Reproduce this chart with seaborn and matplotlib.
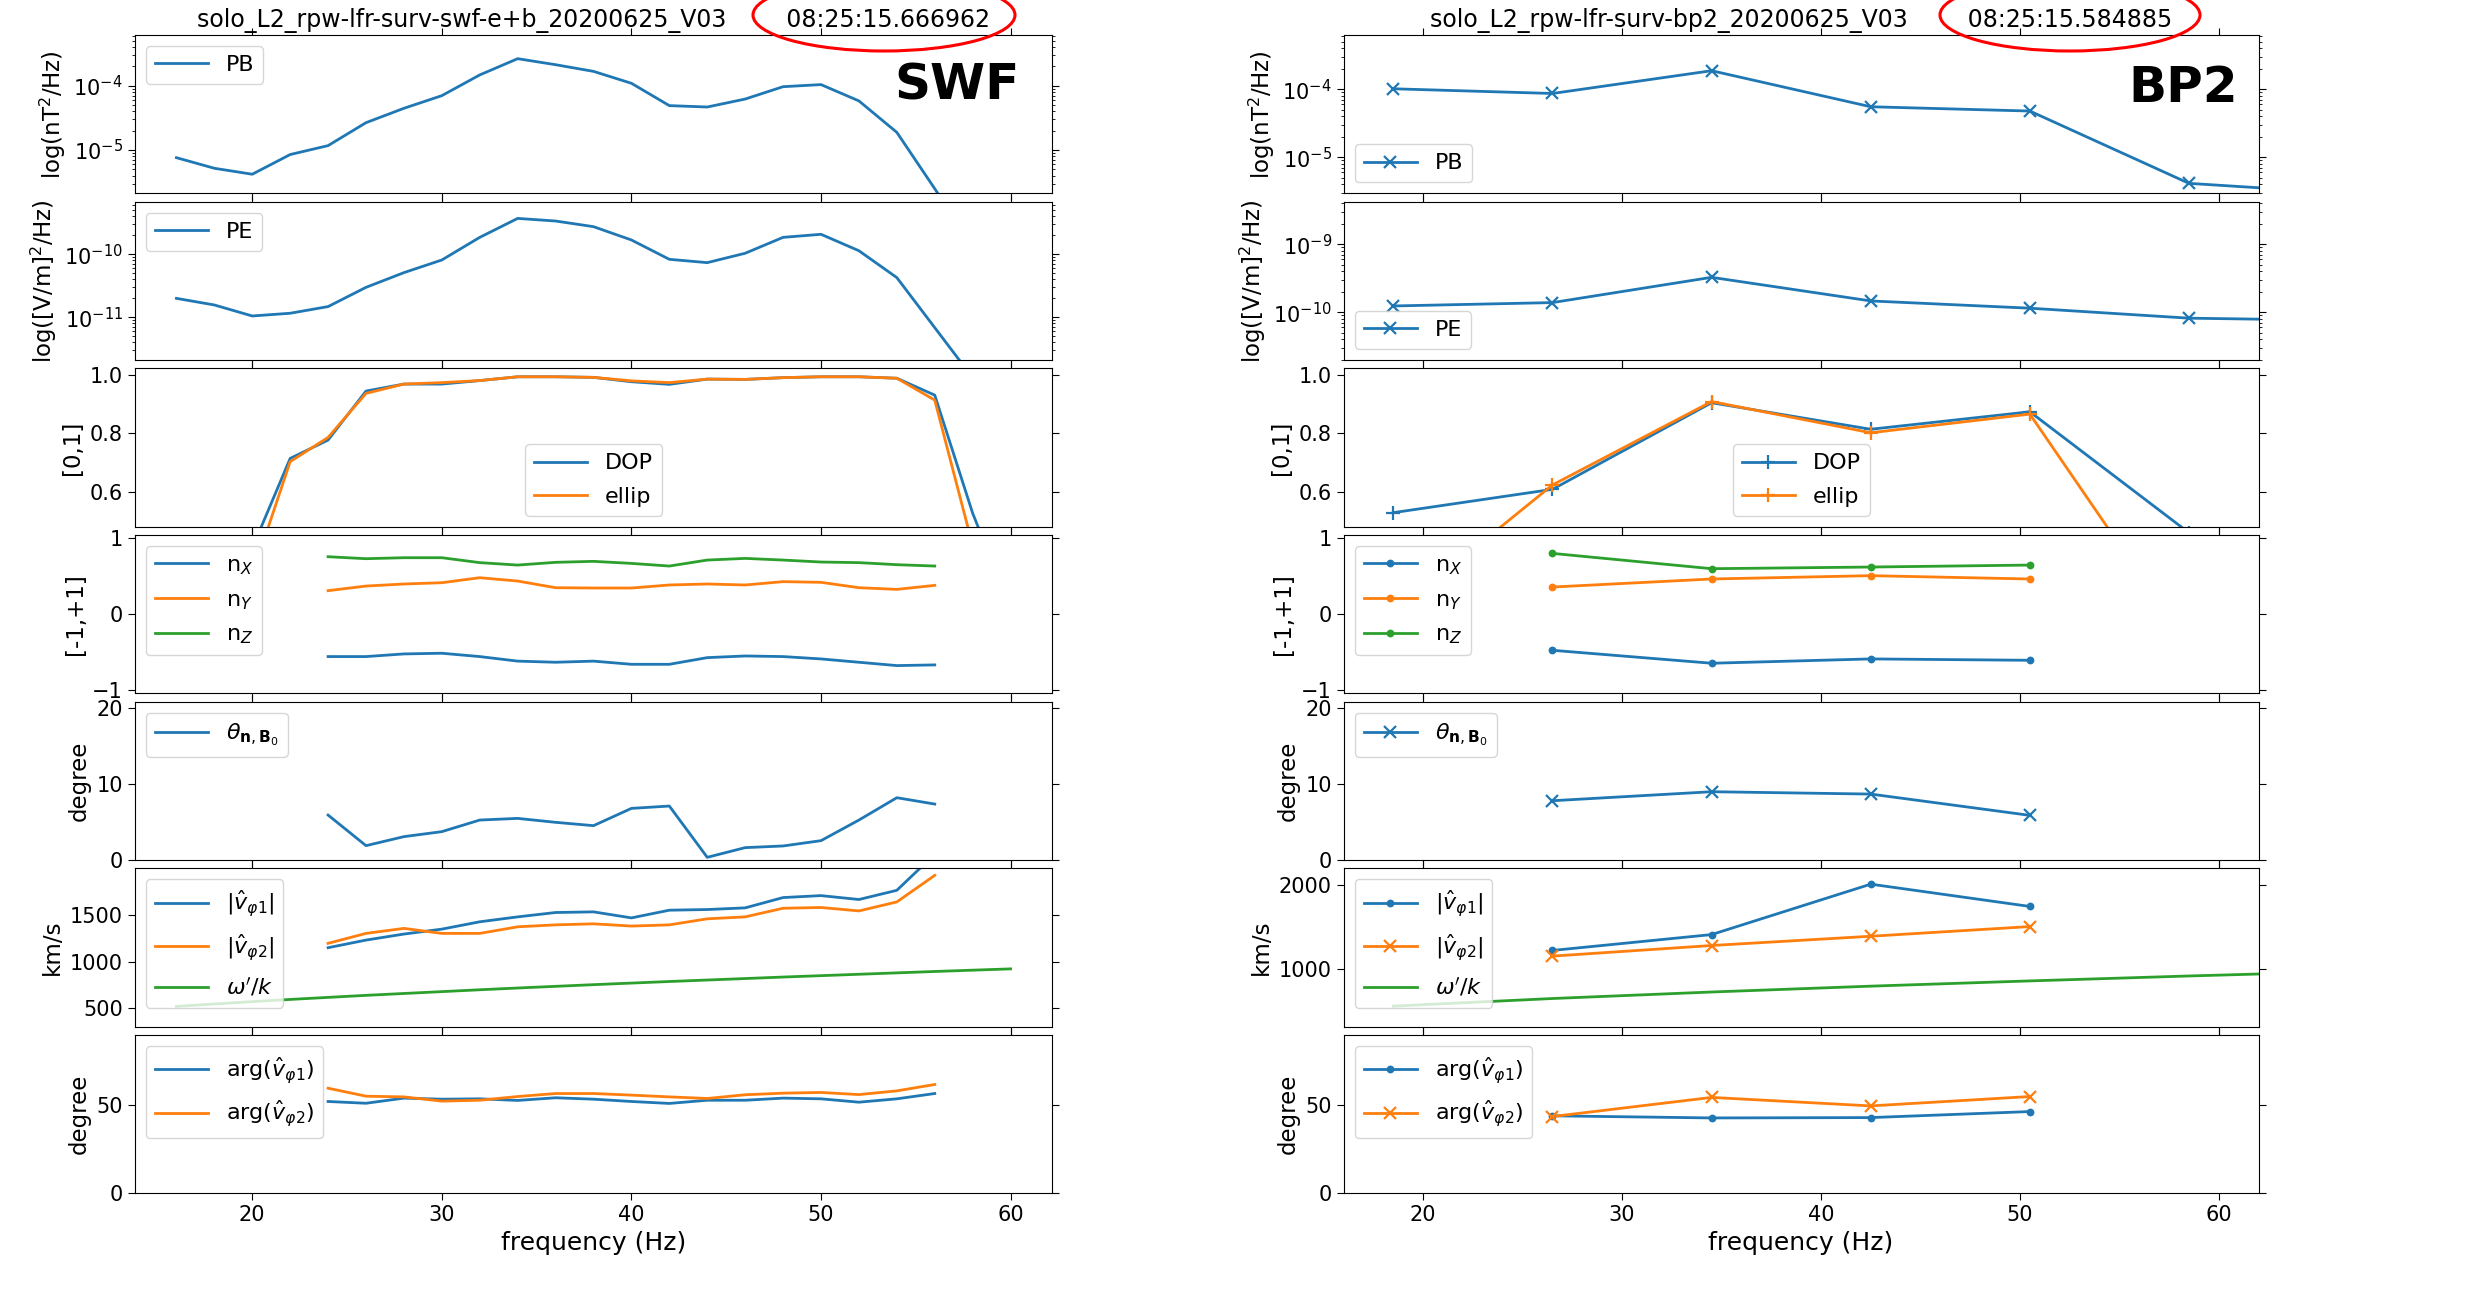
import matplotlib
matplotlib.use("Agg")
import matplotlib.pyplot as plt
import seaborn as sns
from matplotlib.patches import Ellipse

# ---------------- SWF (waveform) spectra, 2 Hz bins ----------------
swf_freq = [16, 18, 20, 22, 24, 26, 28, 30, 32, 34, 36, 38, 40, 42, 44, 46,
            48, 50, 52, 54, 56, 58, 60]
swf_pb = [7.6e-6, 5.2e-6, 4.2e-6, 8.5e-6, 1.17e-5, 2.66e-5, 4.45e-5, 7.0e-5,
          1.47e-4, 2.63e-4, 2.12e-4, 1.67e-4, 1.09e-4, 4.9e-5, 4.66e-5, 6.2e-5,
          9.65e-5, 1.04e-4, 5.8e-5, 1.88e-5, 2.5e-6, 3.2e-7, 5.0e-8]
swf_pe = [2.0e-11, 1.57e-11, 1.05e-11, 1.16e-11, 1.48e-11, 2.99e-11, 5.12e-11,
          8.13e-11, 1.86e-10, 3.72e-10, 3.38e-10, 2.75e-10, 1.69e-10, 8.33e-11,
          7.38e-11, 1.04e-10, 1.86e-10, 2.08e-10, 1.14e-10, 4.27e-11, 6.85e-12,
          1.1e-12, 2.0e-13]
swf_dop = [0.25, 0.30, 0.406, 0.714, 0.777, 0.945, 0.969, 0.969, 0.981, 0.994,
           0.994, 0.992, 0.977, 0.968, 0.986, 0.985, 0.991, 0.994, 0.994, 0.989,
           0.931, 0.526, 0.20]
swf_ellip = [0.20, 0.25, 0.314, 0.703, 0.786, 0.937, 0.969, 0.974, 0.981, 0.994,
             0.994, 0.992, 0.980, 0.974, 0.986, 0.985, 0.991, 0.994, 0.994, 0.989,
             0.914, 0.415, 0.15]

# wave-vector quantities, only where the wave is polarised
swf_fpol = [24, 26, 28, 30, 32, 34, 36, 38, 40, 42, 44, 46, 48, 50, 52, 54, 56]
swf_nx = [-0.56, -0.56, -0.525, -0.516, -0.56, -0.62, -0.635, -0.62, -0.662,
          -0.662, -0.574, -0.552, -0.56, -0.591, -0.635, -0.679, -0.67]
swf_ny = [0.31, 0.371, 0.398, 0.415, 0.481, 0.437, 0.349, 0.345, 0.345, 0.385,
          0.398, 0.385, 0.429, 0.42, 0.349, 0.327, 0.38]
swf_nz = [0.758, 0.732, 0.745, 0.745, 0.68, 0.648, 0.684, 0.697, 0.67, 0.635,
          0.714, 0.736, 0.714, 0.688, 0.68, 0.653, 0.635]
swf_theta = [5.93, 1.89, 3.08, 3.74, 5.27, 5.49, 4.97, 4.53, 6.81, 7.12, 0.35,
             1.63, 1.85, 2.55, 5.27, 8.22, 7.38]
swf_v1 = [1150, 1232, 1297, 1350, 1429, 1482, 1529, 1536, 1471, 1554, 1561,
          1579, 1690, 1711, 1669, 1768, 2157]
swf_v2 = [1197, 1304, 1358, 1304, 1304, 1375, 1396, 1407, 1383, 1396, 1461,
          1482, 1575, 1583, 1546, 1643, 1929]
swf_arg1 = [51.9, 50.9, 53.8, 53.2, 53.4, 52.5, 54.0, 53.2, 51.9, 50.8, 52.6,
            52.6, 53.8, 53.4, 51.5, 53.4, 56.4]
swf_arg2 = [59.4, 54.9, 54.5, 52.1, 52.6, 54.7, 56.4, 56.4, 55.5, 54.5, 53.6,
            55.7, 56.6, 57.0, 55.8, 57.9, 61.5]

swf_fwk = [16, 18, 20, 22, 24, 26, 28, 30, 32, 34, 36, 38, 40, 42, 44, 46, 48,
           50, 52, 54, 56, 58, 60]
swf_wk = [518, 544, 569, 593, 615, 637, 657, 677, 697, 716, 734, 752, 769, 786,
          802, 818, 834, 849, 864, 879, 894, 908, 922]

# ---------------- BP2 (onboard spectral matrices) ----------------
bp2_freq = [18.5, 26.5, 34.5, 42.5, 50.5, 58.5, 66.5]
bp2_pb = [1.02e-4, 8.7e-5, 1.88e-4, 5.55e-5, 4.8e-5, 4.15e-6, 2.95e-6]
bp2_pe = [1.24e-10, 1.39e-10, 3.27e-10, 1.47e-10, 1.15e-10, 8.2e-11, 7.6e-11]
bp2_dop = [0.528, 0.608, 0.905, 0.814, 0.874, 0.459, 0.35]
bp2_ellip = [0.18, 0.623, 0.909, 0.802, 0.866, 0.07, 0.10]
bp2_wk = [551, 642, 720, 790, 853, 912, 966]

bp2_fpol = [26.5, 34.5, 42.5, 50.5]
bp2_nx = [-0.477, -0.648, -0.591, -0.609]
bp2_ny = [0.358, 0.464, 0.508, 0.464]
bp2_nz = [0.802, 0.60, 0.622, 0.648]
bp2_theta = [7.82, 9.01, 8.70, 5.89]
bp2_v1 = [1218, 1408, 2012, 1745]
bp2_v2 = [1150, 1277, 1388, 1504]
bp2_arg1 = [43.8, 42.6, 42.8, 46.2]
bp2_arg2 = [43.4, 54.2, 49.4, 54.7]

swf_title = "solo_L2_rpw-lfr-surv-swf-e+b_20200625_V03        08:25:15.666962"
bp2_title = "solo_L2_rpw-lfr-surv-bp2_20200625_V03        08:25:15.584885"

C0, C1, C2 = "#1f77b4", "#ff7f0e", "#2ca02c"
TICK_FS, LEG_FS, LAB_FS, TITLE_FS = 15, 16, 16.5, 17

W, H = 2472, 1303
fig = plt.figure(figsize=(W / 100, H / 100), dpi=100)
top, bottom = 1 - 35 / H, 1 - 1193.3 / H
gs_l = fig.add_gridspec(7, 1, left=134.7 / W, right=1052.3 / W, top=top,
                        bottom=bottom, hspace=0.0526)
gs_r = fig.add_gridspec(7, 1, left=1343.6 / W, right=2258.6 / W, top=top,
                        bottom=bottom, hspace=0.0526)


def column(gs):
    axes = [fig.add_subplot(gs[0])]
    for i in range(1, 7):
        axes.append(fig.add_subplot(gs[i], sharex=axes[0]))
    return axes


def curve(ax, x, y, label, color, marker=None, ms=8):
    kw = dict(color=color, label=label, lw=2)
    if marker is not None:
        kw.update(marker=marker, markersize=ms, mec=color, mfc=color, mew=1.6)
    sns.lineplot(x=x, y=y, ax=ax, **kw)


def finish(axes, xlim, legend_locs):
    for i, ax in enumerate(axes):
        ax.set_xlim(*xlim)
        ax.tick_params(which="both", top=True, right=True, direction="out",
                       labelsize=TICK_FS)
        ax.tick_params(which="major", length=5)
        if i < 6:
            ax.tick_params(labelbottom=False)
        ax.set_xlabel("")
        ax.legend(loc=legend_locs[i], fontsize=LEG_FS, handlelength=2.4,
                  labelspacing=0.6)
    axes[-1].set_xlabel("frequency (Hz)", fontsize=18)
    axes[-1].set_xticks([20, 30, 40, 50, 60])


# ---------------- left column: SWF ----------------
L = column(gs_l)
curve(L[0], swf_freq, swf_pb, "PB", C0)
L[0].set_yscale("log")
L[0].set_ylim(2.12e-6, 6.14e-4)
L[0].set_ylabel(r"log(nT$^2$/Hz)", fontsize=LAB_FS)
L[0].text(0.965, 0.68, "SWF", transform=L[0].transAxes, ha="right",
          va="center", fontsize=36, fontweight="bold")
L[0].set_title(swf_title, fontsize=TITLE_FS)

curve(L[1], swf_freq, swf_pe, "PE", C0)
L[1].set_yscale("log")
L[1].set_ylim(2.1e-12, 6.86e-10)
L[1].set_ylabel(r"log([V/m]$^2$/Hz)", fontsize=LAB_FS)

curve(L[2], swf_freq, swf_dop, "DOP", C0)
curve(L[2], swf_freq, swf_ellip, "ellip", C1)
L[2].set_ylim(0.48, 1.023)
L[2].set_yticks([0.6, 0.8, 1.0])
L[2].set_ylabel("[0,1]", fontsize=LAB_FS)

curve(L[3], swf_fpol, swf_nx, r"n$_X$", C0)
curve(L[3], swf_fpol, swf_ny, r"n$_Y$", C1)
curve(L[3], swf_fpol, swf_nz, r"n$_Z$", C2)
L[3].set_ylim(-1.045, 1.045)
L[3].set_yticks([-1, 0, 1])
L[3].set_ylabel("[-1,+1]", fontsize=LAB_FS)

curve(L[4], swf_fpol, swf_theta, r"$\theta_{\mathbf{n},\mathbf{B}_0}$", C0)
L[4].set_ylim(0, 20.9)
L[4].set_yticks([0, 10, 20])
L[4].set_ylabel("degree", fontsize=LAB_FS)

curve(L[5], swf_fpol, swf_v1, r"$|\hat{v}_{\varphi 1}|$", C0)
curve(L[5], swf_fpol, swf_v2, r"$|\hat{v}_{\varphi 2}|$", C1)
curve(L[5], swf_fwk, swf_wk, r"$\omega'/k$", C2)
L[5].set_ylim(300, 2005)
L[5].set_yticks([500, 1000, 1500])
L[5].set_ylabel("km/s", fontsize=LAB_FS)

curve(L[6], swf_fpol, swf_arg1, r"arg($\hat{v}_{\varphi 1}$)", C0)
curve(L[6], swf_fpol, swf_arg2, r"arg($\hat{v}_{\varphi 2}$)", C1)
L[6].set_ylim(0, 89.5)
L[6].set_yticks([0, 50])
L[6].set_ylabel("degree", fontsize=LAB_FS)

finish(L, (13.8, 62.2), ["upper left", "upper left", "lower center",
                         "upper left", "upper left", "upper left", "upper left"])

# ---------------- right column: BP2 ----------------
R = column(gs_r)
curve(R[0], bp2_freq, bp2_pb, "PB", C0, "x")
R[0].set_yscale("log")
R[0].set_ylim(2.96e-6, 6.3e-4)
R[0].set_ylabel(r"log(nT$^2$/Hz)", fontsize=LAB_FS)
R[0].text(0.978, 0.668, "BP2", transform=R[0].transAxes, ha="right",
          va="center", fontsize=36, fontweight="bold")
R[0].set_title(bp2_title, fontsize=TITLE_FS)

curve(R[1], bp2_freq, bp2_pe, "PE", C0, "x")
R[1].set_yscale("log")
R[1].set_ylim(1.99e-11, 4.24e-9)
R[1].set_ylabel(r"log([V/m]$^2$/Hz)", fontsize=LAB_FS)

curve(R[2], bp2_freq, bp2_dop, "DOP", C0, "+", 10)
curve(R[2], bp2_freq, bp2_ellip, "ellip", C1, "+", 10)
R[2].set_ylim(0.48, 1.023)
R[2].set_yticks([0.6, 0.8, 1.0])
R[2].set_ylabel("[0,1]", fontsize=LAB_FS)

curve(R[3], bp2_fpol, bp2_nx, r"n$_X$", C0, ".")
curve(R[3], bp2_fpol, bp2_ny, r"n$_Y$", C1, ".")
curve(R[3], bp2_fpol, bp2_nz, r"n$_Z$", C2, ".")
R[3].set_ylim(-1.045, 1.045)
R[3].set_yticks([-1, 0, 1])
R[3].set_ylabel("[-1,+1]", fontsize=LAB_FS)

curve(R[4], bp2_fpol, bp2_theta, r"$\theta_{\mathbf{n},\mathbf{B}_0}$", C0, "x")
R[4].set_ylim(0, 20.9)
R[4].set_yticks([0, 10, 20])
R[4].set_ylabel("degree", fontsize=LAB_FS)

curve(R[5], bp2_fpol, bp2_v1, r"$|\hat{v}_{\varphi 1}|$", C0, ".")
curve(R[5], bp2_fpol, bp2_v2, r"$|\hat{v}_{\varphi 2}|$", C1, "x")
curve(R[5], bp2_freq, bp2_wk, r"$\omega'/k$", C2)
R[5].set_ylim(305, 2202)
R[5].set_yticks([1000, 2000])
R[5].set_ylabel("km/s", fontsize=LAB_FS)

curve(R[6], bp2_fpol, bp2_arg1, r"arg($\hat{v}_{\varphi 1}$)", C0, ".")
curve(R[6], bp2_fpol, bp2_arg2, r"arg($\hat{v}_{\varphi 2}$)", C1, "x")
R[6].set_ylim(0, 89.5)
R[6].set_yticks([0, 50])
R[6].set_ylabel("degree", fontsize=LAB_FS)

finish(R, (16.0, 62.0), ["lower left", "lower left", "lower center",
                         "upper left", "upper left", "upper left", "upper left"])

# red rings around the timestamps
for cx, ew in [(884, 262), (2070, 260)]:
    fig.add_artist(Ellipse((cx / W, 1 - 15 / H), ew / W, 72 / H,
                           transform=fig.transFigure, fill=False,
                           edgecolor="red", linewidth=2.2, clip_on=False))

fig.savefig("out.png", dpi=100)
